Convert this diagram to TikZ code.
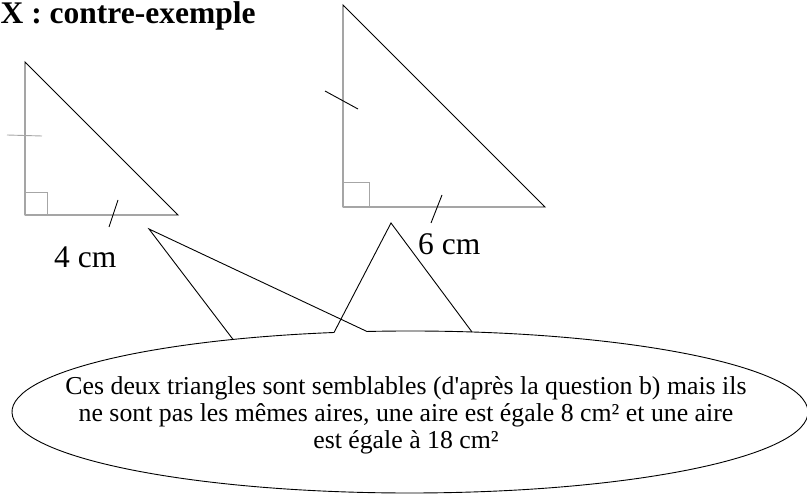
\documentclass[tikz,border=0pt]{standalone}
\usepackage{fontspec}
\setmainfont{Liberation Serif}[Ligatures=TeXOff]
\begin{document}
\begin{tikzpicture}[x=1pt,y=-1pt,
  edge/.style={black, line width=0.9pt, line join=miter},
  rangle/.style={gray!70, line width=0.9pt},
  tickline/.style={black, line width=0.9pt},
  graytick/.style={gray!70, line width=0.9pt},
  lbl/.style={inner sep=0pt, anchor=base west, font=\fontsize{31.5}{34}\selectfont}]
\useasboundingbox (0,0) rectangle (807,494);

% title
\node[inner sep=0pt, anchor=base west, font=\bfseries\fontsize{31.5}{35}\selectfont] (title) at (0.5,24) {X : contre-exemple};

% left triangle
\coordinate (A1) at (25,62);
\coordinate (B1) at (25,215);
\coordinate (C1) at (178,215);
\draw[edge] (A1) -- (B1) -- (C1) -- cycle;
\draw[rangle] (25,192) rectangle (47,215);
\draw[graytick] (7,135) -- (42,136);
\draw[tickline] (109,227) -- (118,200);
\node[lbl] (l4) at (54,268) {4 cm};

% right triangle
\coordinate (A2) at (343,5);
\coordinate (B2) at (343,207);
\coordinate (C2) at (545,207);
\draw[edge] (A2) -- (B2) -- (C2) -- cycle;
\draw[rangle] (343,182) rectangle (369,207);
\draw[tickline] (325,91) -- (358,109);
\draw[tickline] (442,195) -- (431,223);
\node[lbl] (l6) at (418,255) {6 cm};

% callout
\coordinate (b1) at (233,339.4);
\coordinate (b2) at (334,332.5);
\coordinate (b3) at (367,331.5);
\coordinate (b4) at (472,332);
\coordinate (t1) at (149,229);
\coordinate (t2) at (391,223);
\draw[edge] ([shift={(96.2:398pt and 81pt)}]410,412) arc[start angle=96.2, end angle=-259, x radius=398pt, y radius=81pt];
\draw[edge] (b1) -- (t1) -- (b3);
\draw[edge] (b2) -- (t2) -- (b4);

\node[font=\fontsize{25.8}{27}\selectfont, align=center, inner sep=0pt] (msg) at (406,415.5)
  {Ces deux triangles sont semblables (d'après la question b) mais ils\\
   ne sont pas les mêmes aires, une aire est égale 8 cm² et une aire\\
   est égale à 18 cm²};
\end{tikzpicture}
\end{document}
